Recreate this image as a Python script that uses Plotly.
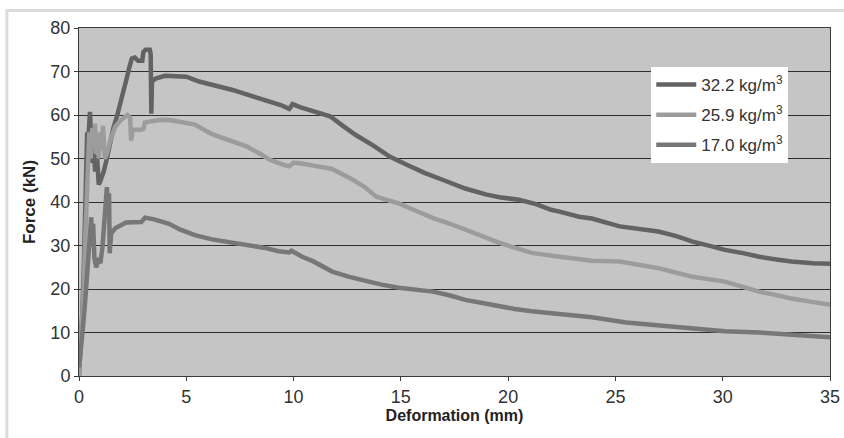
import plotly.graph_objects as go

# Force–deformation curves for three fibre dosages
names = ["32.2 kg/m<sup>3</sup>", "25.9 kg/m<sup>3</sup>", "17.0 kg/m<sup>3</sup>"]
colors = ["#636363", "#9c9c9c", "#777777"]

defo_322 = [0, 0.08, 0.15, 0.22, 0.28, 0.33, 0.38, 0.42, 0.47, 0.51, 0.55, 0.6, 0.65, 0.7, 0.75,
            0.8, 0.86, 0.92, 0.98, 1.05, 1.15, 1.3, 1.45, 1.6, 1.76, 1.9, 2.07, 2.2, 2.35, 2.46,
            2.6, 2.75, 2.95, 3.0, 3.1, 3.3, 3.34, 3.37, 3.4, 3.45, 3.6, 4.0, 4.6, 5.0, 5.6, 6.2,
            7.2, 8.4, 9.4, 9.8, 9.95, 10.3, 11.1, 11.7, 12.3, 12.9, 13.7, 14.5, 15.3, 16.1, 17.0,
            18.0, 19.0, 19.6, 20.5, 21.3, 22.0, 22.4, 23.3, 23.9, 25.2, 26.2, 27.0, 27.8, 28.6,
            29.4, 30.1, 31.0, 31.7, 32.5, 33.2, 34.2, 35.0]
force_322 = [0, 6, 14, 24, 36, 48, 56, 53, 58, 60.7, 57, 49, 55, 52, 47,
             54, 49, 44, 44.6, 45.5, 47, 50, 54, 57, 59.5, 62, 65.5, 68, 71, 73,
             73.2, 72.5, 72.5, 74.5, 75, 75, 74, 60.3, 67.5, 68, 68.4, 69, 69, 68.8, 67.7, 67,
             65.7, 63.8, 62.3, 61.4, 62.5, 61.8, 60.6, 59.7, 57.5, 55.4, 53, 50.4, 48.5, 46.7, 45,
             43.1, 41.7, 41.1, 40.5, 39.5, 38.2, 37.8, 36.6, 36.2, 34.4, 33.8, 33.2, 32.2, 30.9,
             29.9, 29, 28.2, 27.4, 26.8, 26.3, 25.9, 25.8]

defo_259 = [0, 0.1, 0.2, 0.28, 0.35, 0.42, 0.48, 0.55, 0.62, 0.68, 0.74, 0.8, 0.86, 0.92, 0.98,
            1.05, 1.12, 1.2, 1.29, 1.45, 1.68, 1.9, 2.1, 2.25, 2.38, 2.43, 2.5, 2.6, 2.9, 3.0,
            3.08, 3.4, 3.8, 4.3, 4.7, 5.4, 6.2, 7.0, 7.8, 8.4, 8.9, 9.5, 9.8, 10.0, 10.3, 11.0,
            11.8, 12.7, 13.3, 13.85, 14.9, 15.7, 16.5, 17.3, 18.0, 18.8, 19.6, 20.3, 21.1, 22.4,
            23.3, 23.9, 25.2, 26.2, 27.0, 27.8, 28.6, 30.1, 30.9, 31.7, 32.5, 33.2, 34.1, 35.0]
force_259 = [0, 8, 18, 30, 42, 52, 56, 50, 57, 53, 58, 51, 55, 50, 56,
             52, 57.5, 50, 51, 54, 57.2, 58.6, 59.5, 60, 59.4, 54.1, 56.5, 56.6, 56.6, 56.8,
             58.3, 58.5, 58.9, 58.8, 58.4, 57.8, 55.6, 54.2, 52.8, 51.2, 49.7, 48.6, 48.2, 49, 48.9, 48.3,
             47.6, 45.3, 43.5, 41.2, 39.7, 38.0, 36.3, 35.0, 33.6, 32.1, 30.6, 29.5, 28.3, 27.4,
             26.8, 26.5, 26.3, 25.5, 24.8, 23.8, 22.8, 21.7, 20.6, 19.4, 18.6, 17.8, 17.1, 16.4]

defo_170 = [0, 0.1, 0.2, 0.3, 0.4, 0.5, 0.57, 0.62, 0.66, 0.72, 0.8, 0.9, 1.0, 1.1, 1.2, 1.3,
            1.35, 1.4, 1.43, 1.5, 1.7, 2.2, 2.9, 3.08, 3.5, 4.2, 4.7, 5.4, 6.2, 7.0, 7.8, 8.6,
            9.3, 9.8, 9.9, 10.4, 10.9, 11.5, 11.8, 12.6, 13.4, 14.1, 14.9, 15.7, 16.5, 17.3, 18.0,
            18.8, 19.6, 20.3, 21.1, 22.4, 23.9, 25.5, 27.0, 28.6, 30.1, 31.7, 33.2, 35.0]
force_170 = [2, 6, 12, 18, 24, 30, 36.5, 30, 35, 27, 25, 26.5, 26, 30, 37, 43.4,
             38, 42, 28.2, 32.8, 34, 35.3, 35.4, 36.4, 36, 35, 33.7, 32.4, 31.4, 30.8, 30.2, 29.5,
             28.7, 28.4, 28.8, 27.4, 26.4, 24.9, 24, 22.8, 21.7, 21.0, 20.3, 19.9, 19.4, 18.5, 17.5,
             16.8, 16, 15.4, 14.9, 14.3, 13.5, 12.3, 11.6, 10.8, 10.3, 10.0, 9.5, 8.9]

x_ticks = [0, 5, 10, 15, 20, 25, 30, 35]
y_ticks = [0, 10, 20, 30, 40, 50, 60, 70, 80]

font_family = "Liberation Sans, Arial, sans-serif"

fig = go.Figure()
for i, (name, color, xs, ys) in enumerate(zip(names, colors,
                                              [defo_322, defo_259, defo_170],
                                              [force_322, force_259, force_170])):
    fig.add_trace(go.Scatter(x=xs, y=ys, name=name, mode="lines", legendgroup=f"g{i}",
                             line=dict(color=color, width=4.5)))

fig.update_layout(
    width=844, height=438,
    margin=dict(l=79, r=14, t=28, b=62),
    paper_bgcolor="white",
    plot_bgcolor="#c5c5c5",
    font=dict(family=font_family, size=18, color="#333333"),
    legend=dict(x=0.762, y=0.888, xanchor="left", yanchor="top",
                bgcolor="white", borderwidth=0,
                font=dict(family=font_family, size=17, color="#333333"),
                itemwidth=40, tracegroupgap=5),
    showlegend=True,
    shapes=[dict(type="rect", xref="paper", yref="paper",
                 x0=-0.096, x1=1.05, y0=-0.3, y1=1.05,
                 line=dict(color="#dcdcdc", width=3), layer="below")],
)
fig.update_xaxes(range=[0, 35], tickvals=x_ticks, showgrid=False, zeroline=False,
                 automargin=False,
                 showline=True, linecolor="#3a3a3a", linewidth=1, mirror=True,
                 ticks="outside", ticklen=4, tickcolor="#3a3a3a",
                 tickfont=dict(family=font_family, size=18, color="#333333"),
                 title=dict(text="<b>Deformation (mm)</b>", standoff=4,
                            font=dict(family=font_family, size=16, color="#222222")))
fig.update_yaxes(range=[0, 80], tickvals=y_ticks, showgrid=True, gridcolor="#2e2e2e",
                 gridwidth=1, zeroline=False, automargin=False,
                 showline=True, linecolor="#3a3a3a", linewidth=1, mirror=True,
                 ticks="outside", ticklen=4, tickcolor="#3a3a3a",
                 tickfont=dict(family=font_family, size=18, color="#333333"),
                 title=dict(text="<b>Force (kN)</b>", standoff=10,
                            font=dict(family=font_family, size=17, color="#222222")))

fig.write_html("out.html")
